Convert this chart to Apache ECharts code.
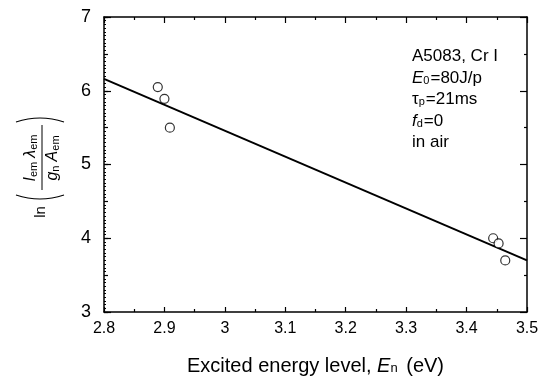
<!DOCTYPE html>
<html>
<head>
<meta charset="utf-8">
<script src="https://cdn.jsdelivr.net/npm/echarts@6/dist/echarts.min.js"></script>
<style>
  html, body { margin: 0; padding: 0; background: #fff; }
  #chart { width: 547px; height: 382px; }
</style>
</head>
<body>
<div id="chart"></div>
<script>
// Measured emission lines (excited level vs. Boltzmann term)
const levelEn = [2.889, 2.900, 2.909, 3.444, 3.453, 3.464];
const lnTerm = [6.05, 5.89, 5.50, 4.00, 3.93, 3.70];

// Least-squares fit line endpoints
const fitEn = [2.8, 3.5];
const fitLn = [6.16, 3.70];

// Tick labels
const xTickLabels = ['2.8', '2.9', '3', '3.1', '3.2', '3.3', '3.4', '3.5'];
const yTickLabels = ['3', '4', '5', '6', '7'];

// Condition notes (rich text)
const notes = [
  'A5083, Cr I',
  '{i|E}{s|0}=80J/p',
  'τ{s|p}=21ms',
  '{i|f}{s|d}=0',
  'in air'
];

const FONT = 'Liberation Sans, Arial, sans-serif';
const chart = echarts.init(document.getElementById('chart'));

const tickStyle = { color: '#000', width: 1.2 };
const lineStyle = { color: '#000', width: 1.5 };

function xLabel(v) {
  const i = Math.round((v - 2.8) * 10);
  return xTickLabels[i] ?? '';
}
function yLabel(v) {
  const i = Math.round(v - 3);
  return yTickLabels[i] ?? '';
}

const grid = { left: 104, right: 20, top: 17, bottom: 70 };

const option = {
  animation: false,
  backgroundColor: '#fff',
  grid: grid,
  xAxis: [
    {
      type: 'value', position: 'bottom', min: 2.8, max: 3.5, interval: 0.1,
      axisLine: { lineStyle: lineStyle },
      axisTick: { inside: true, length: 5, lineStyle: tickStyle },
      minorTick: { show: true, splitNumber: 2, length: 3, lineStyle: tickStyle },
      splitLine: { show: false },
      axisLabel: { formatter: xLabel, fontSize: 16, fontFamily: FONT, color: '#000', margin: 9 },
      name: 'Excited energy level, {i|E}{s|n} (eV)',
      nameLocation: 'middle', nameGap: 44,
      nameTextStyle: {
        fontSize: 20, fontFamily: FONT, color: '#000',
        rich: {
          i: { fontSize: 20, fontFamily: FONT, fontStyle: 'italic', color: '#000' },
          s: { fontSize: 13, fontFamily: FONT, color: '#000', padding: [5, 3, 0, 0] }
        }
      }
    },
    {
      type: 'value', position: 'top', min: 2.8, max: 3.5, interval: 0.1,
      axisLine: { lineStyle: lineStyle },
      axisTick: { inside: true, length: 6, lineStyle: tickStyle },
      minorTick: { show: true, splitNumber: 2, length: 3, lineStyle: tickStyle },
      splitLine: { show: false },
      axisLabel: { show: false }
    }
  ],
  yAxis: [
    {
      type: 'value', position: 'left', min: 3, max: 7, interval: 1,
      axisLine: { lineStyle: lineStyle },
      axisTick: { inside: true, length: 7, lineStyle: tickStyle },
      minorTick: { show: true, splitNumber: 20, length: 2, lineStyle: { color: '#000', width: 1 } },
      splitLine: { show: false },
      axisLabel: { formatter: yLabel, fontSize: 18, fontFamily: FONT, color: '#000', margin: 13 }
    },
    {
      type: 'value', position: 'left', min: 3, max: 7, interval: 0.5,
      axisLine: { show: false },
      axisTick: { inside: true, length: 4, lineStyle: tickStyle },
      splitLine: { show: false },
      axisLabel: { show: false }
    },
    {
      type: 'value', position: 'right', min: 3, max: 7, interval: 1,
      axisLine: { lineStyle: lineStyle },
      axisTick: { inside: true, length: 7, lineStyle: tickStyle },
      minorTick: { show: true, splitNumber: 2, length: 3, lineStyle: tickStyle },
      splitLine: { show: false },
      axisLabel: { show: false }
    }
  ],
  series: [
    {
      type: 'line',
      data: fitEn.map((x, i) => [x, fitLn[i]]),
      symbol: 'none',
      lineStyle: { color: '#000', width: 2 },
      z: 3
    },
    {
      type: 'scatter',
      data: levelEn.map((x, i) => [x, lnTerm[i]]),
      symbol: 'circle',
      symbolSize: 9,
      itemStyle: { color: '#fff', borderColor: '#000', borderWidth: 1.2 },
      z: 4
    }
  ],
  graphic: [
    // Condition notes in the upper right of the plot
    ...notes.map((t, i) => ({
      type: 'text',
      left: 412,
      top: 48 + i * 21.5,
      style: {
        text: t,
        fontSize: 17,
        fontFamily: FONT,
        fill: '#000',
        rich: {
          i: { fontSize: 17, fontFamily: FONT, fontStyle: 'italic', fill: '#000' },
          s: { fontSize: 11, fontFamily: FONT, fill: '#000', padding: [5, 1, 0, 0] }
        }
      }
    })),
    // Rotated y-axis title: ln( I_em λ_em / g_n A_em )
    {
      type: 'group',
      x: 41, y: 168,
      rotation: Math.PI / 2,
      children: [
        { type: 'text', style: { text: 'ln', x: -44, y: 0, fontSize: 15, fontFamily: FONT, fill: '#000', align: 'center', verticalAlign: 'middle' } },
        { type: 'bezierCurve', shape: { x1: -27, y1: -25, x2: -27, y2: 23, cpx1: -35, cpy1: -1 }, style: { stroke: '#000', lineWidth: 1.1, fill: null } },
        { type: 'bezierCurve', shape: { x1: 46, y1: -25, x2: 46, y2: 23, cpx1: 54, cpy1: -1 }, style: { stroke: '#000', lineWidth: 1.1, fill: null } },
        {
          type: 'text',
          style: {
            text: '{i|I}{s|em} {i|λ}{s|em}', x: 10, y: -10,
            align: 'center', verticalAlign: 'middle',
            fontSize: 15, fontFamily: FONT, fill: '#000',
            rich: {
              i: { fontSize: 16, fontFamily: FONT, fontStyle: 'italic', fill: '#000' },
              s: { fontSize: 11, fontFamily: FONT, fill: '#000', padding: [5, 0, 0, 0] }
            }
          }
        },
        { type: 'line', shape: { x1: -22, y1: 1, x2: 43, y2: 1 }, style: { stroke: '#000', lineWidth: 1 } },
        {
          type: 'text',
          style: {
            text: '{i|g}{s|n} {i|A}{s|em}', x: 10, y: 12,
            align: 'center', verticalAlign: 'middle',
            fontSize: 15, fontFamily: FONT, fill: '#000',
            rich: {
              i: { fontSize: 16, fontFamily: FONT, fontStyle: 'italic', fill: '#000' },
              s: { fontSize: 11, fontFamily: FONT, fill: '#000', padding: [5, 0, 0, 0] }
            }
          }
        }
      ]
    }
  ]
};

chart.setOption(option);
</script>
</body>
</html>
